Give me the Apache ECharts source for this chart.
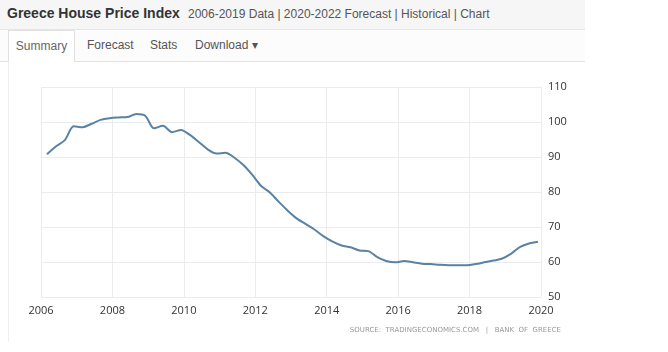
<!DOCTYPE html>
<html>
<head>
<meta charset="utf-8">
<script src="https://cdn.jsdelivr.net/npm/echarts@6/dist/echarts.min.js"></script>
<style>
    body{
        margin: 0;
        width: 668px;
        height: 352px;
        background: #fff;
        font-family: Arial, "Liberation Sans", sans-serif;
        overflow: hidden;
        position: relative;
    }
    .head{
        position: absolute;
        left: 0; top: 0;
        width: 585px; height: 29px;
        background: #f6f6f6;
        border-bottom: 1px solid #e6e6e6;
    }
    .head b{
        position: absolute;
        left: 7px; top: 5px;
        font-size: 14px;
        color: #333;
    }
    .head span{
        position: absolute;
        left: 188px; top: 7px;
        font-size: 12px;
        color: #555;
    }
    .tabs{
        position: absolute;
        left: 0; top: 30px;
        width: 585px; height: 31px;
        background: #fcfcfc;
        border-bottom: 1px solid #e2e2e2;
    }
    .tab{
        position: absolute;
        top: 8px;
        font-size: 12px;
        color: #555;
    }
    .tab.on{
        left: 8px; top: 0;
        width: 67px; height: 32px;
        line-height: 30px;
        text-align: center;
        background: #fff;
        border: 1px solid #e2e2e2;
        border-bottom: none;
        box-sizing: border-box;
        color: #666;
    }
    .side{
        position: absolute;
        left: 8px; top: 62px;
        width: 1px; height: 280px;
        background: #f0f0f0;
    }
    #chart{
        position: absolute;
        left: 0; top: 0;
        width: 668px; height: 352px;
    }
</style>
</head>
<body>
<div id="chart"></div>
<div class="head"><b>Greece House Price Index</b><span>2006-2019 Data | 2020-2022 Forecast | Historical | Chart</span></div>
<div class="tabs">
    <div class="tab on">Summary</div>
    <div class="tab" style="left:87px">Forecast</div>
    <div class="tab" style="left:150px">Stats</div>
    <div class="tab" style="left:195px">Download &#9662;</div>
</div>
<div class="side"></div>
<script>
    // quarterly index, 2006 Q1 .. 2019 Q4
    var years = [2006, 2007, 2008, 2009, 2010, 2011, 2012, 2013, 2014, 2015, 2016, 2017, 2018, 2019];
    var priceIndex = [
        90.8, 93.0, 94.8, 98.8,
        98.5, 99.5, 100.6, 101.1,
        101.3, 101.4, 102.3, 101.8,
        98.2, 98.9, 97.1, 97.7,
        96.3, 94.3, 92.2, 91.0,
        91.2, 89.8, 87.7, 84.9,
        81.7, 79.8, 77.1, 74.6,
        72.4, 70.8, 69.2, 67.3,
        65.8, 64.7, 64.2, 63.3,
        63.1, 61.4, 60.3, 59.9,
        60.3, 59.9, 59.5, 59.4,
        59.2, 59.1, 59.1, 59.1,
        59.4, 59.9, 60.4, 61.0,
        62.4, 64.3, 65.3, 65.8
    ];
    var xTicks = [2006, 2008, 2010, 2012, 2014, 2016, 2018, 2020];
    var yTicks = [50, 60, 70, 80, 90, 100, 110];

    var points = [];
    years.forEach(function(y, i){
        for (var q = 0; q < 4; q++) {
            // one point per quarter, placed at the quarter's second month
            points.push([y + (q * 3 + 2) / 12, priceIndex[i * 4 + q]]);
        }
    });

    var chart = echarts.init(document.getElementById('chart'));
    var option = {
        animation: false,
        grid: {left: 41, right: 127, top: 87, bottom: 55},
        xAxis: {
            type: 'value',
            min: xTicks[0],
            max: xTicks[xTicks.length - 1],
            interval: 2,
            axisLine: {show: false},
            axisTick: {show: false},
            axisLabel: {
                color: '#333', fontSize: 11, margin: 8,
                fontFamily: 'Open Sans',
                formatter: function(v){ return String(v); }
            },
            splitLine: {lineStyle: {color: '#ececec'}}
        },
        yAxis: {
            type: 'value',
            position: 'right',
            min: yTicks[0],
            max: yTicks[yTicks.length - 1],
            interval: 10,
            axisLine: {show: false},
            axisTick: {show: false},
            axisLabel: {color: '#333', fontSize: 11, margin: 7, fontFamily: 'Open Sans'},
            splitLine: {lineStyle: {color: '#ececec'}}
        },
        series: [{
            type: 'line',
            data: points,
            smooth: 0.3,
            symbol: 'none',
            lineStyle: {color: '#5a82a3', width: 2}
        }],
        graphic: [{
            type: 'text',
            right: 107,
            top: 327,
            style: {
                text: 'SOURCE:  TRADINGECONOMICS.COM   |   BANK  OF  GREECE',
                fill: '#999',
                fontSize: 7,
                fontFamily: 'DejaVu Sans'
            }
        }]
    };
    chart.setOption(option);
</script>
</body>
</html>
